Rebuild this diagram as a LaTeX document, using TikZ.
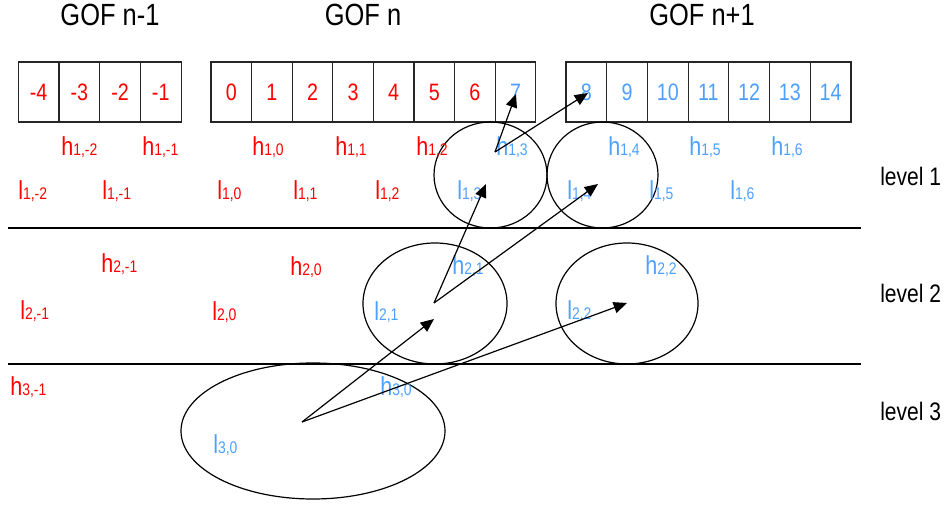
\documentclass[tikz,border=0pt]{standalone}
\usepackage{fontspec}
\setmainfont[FakeStretch=0.83]{Liberation Sans}
\usetikzlibrary{shapes.geometric,arrows.meta}
\definecolor{gofred}{RGB}{255,0,0}
\definecolor{gofblue}{RGB}{77,160,255}
% band label: big letter followed by a smaller index on the same baseline
\newcommand{\bandlab}[2]{{\fontsize{19.5}{20}\selectfont #1}{\fontsize{12.6}{13}\selectfont #2}}
\begin{document}
\begin{tikzpicture}[x=0.75pt,y=-0.75pt,
  cell/.style={draw=black!85,line width=0.9pt,minimum width={40.7*0.75pt},
    minimum height={60*0.75pt},inner sep=0pt,font=\fontsize{17.8}{18}\selectfont},
  title/.style={font=\fontsize{23}{25}\selectfont,inner sep=0pt},
  lvl/.style={font=\fontsize{19}{20}\selectfont,inner sep=0pt,anchor=west},
  lab/.style={inner sep=0pt,anchor=base west},
  band/.style={draw,line width=0.9pt,ellipse,inner sep=0pt},
  sep/.style={line width=0.9pt},
  arr/.style={line width=0.9pt,-{Triangle[length=10pt,width=8.5pt]}}]
\useasboundingbox (0,0) rectangle (945,505);

% titles
\node[title] (t1) at (110,15) {GOF n-1};
\node[title] (t2) at (363,15) {GOF n};
\node[title] (t3) at (702,15) {GOF n+1};

% frame cells
\foreach \v [count=\i from 0] in {-4,-3,-2,-1}
  \node[cell,text=gofred] (ca\i) at ({18.3+40.7*(\i+0.5)},92) {\v};
\foreach \v [count=\i from 0] in {0,1,2,3,4,5,6}
  \node[cell,text=gofred] (cb\i) at ({211+40.6*(\i+0.5)},92) {\v};
\node[cell,text=gofblue] (cb7) at ({211+40.6*7.5},92) {7};
\foreach \v [count=\i from 0] in {8,9,10,11,12,13,14}
  \node[cell,text=gofblue] (cc\i) at ({566+40.7*(\i+0.5)},92) {\v};

% level separators
\coordinate (s1a) at (8,228); \coordinate (s1b) at (861,228);
\coordinate (s2a) at (8,364); \coordinate (s2b) at (861,364);
\draw[sep] (s1a) -- (s1b);
\draw[sep] (s2a) -- (s2b);

% level names
\node[lvl] (lv1) at (880,176) {level 1};
\node[lvl] (lv2) at (880,293) {level 2};
\node[lvl] (lv3) at (880,411) {level 3};

% ellipses
\node[band,minimum width={113*0.75pt},minimum height={106*0.75pt}] (e13) at (490.5,175) {};
\node[band,minimum width={111*0.75pt},minimum height={106*0.75pt}] (e14) at (602.5,175) {};
\node[band,minimum width={144*0.75pt},minimum height={121*0.75pt}] (e21) at (435,303.5) {};
\node[band,minimum width={142*0.75pt},minimum height={121*0.75pt}] (e22) at (627,303.5) {};
\node[band,minimum width={264*0.75pt},minimum height={136*0.75pt}] (e30) at (313,431) {};

% level 1 labels
\node[lab,text=gofred] (h1m2) at (61,156) {\bandlab{h}{1,-2}};
\node[lab,text=gofred] (h1m1) at (142,156) {\bandlab{h}{1,-1}};
\node[lab,text=gofred] (h10) at (252,156) {\bandlab{h}{1,0}};
\node[lab,text=gofred] (h11) at (335,156) {\bandlab{h}{1,1}};
\node[lab,text=gofred] (h12) at (416,156) {\bandlab{h}{1,2}};
\node[lab,text=gofblue] (h13) at (496,156) {\bandlab{h}{1,3}};
\node[lab,text=gofblue] (h14) at (608,156) {\bandlab{h}{1,4}};
\node[lab,text=gofblue] (h15) at (689,156) {\bandlab{h}{1,5}};
\node[lab,text=gofblue] (h16) at (771,156) {\bandlab{h}{1,6}};

\node[lab,text=gofred] (l1m2) at (18,200) {\bandlab{l}{1,-2}};
\node[lab,text=gofred] (l1m1) at (102,200) {\bandlab{l}{1,-1}};
\node[lab,text=gofred] (l10) at (217,200) {\bandlab{l}{1,0}};
\node[lab,text=gofred] (l11) at (293,200) {\bandlab{l}{1,1}};
\node[lab,text=gofred] (l12) at (375,200) {\bandlab{l}{1,2}};
\node[lab,text=gofblue] (l13) at (457,200) {\bandlab{l}{1,3}};
\node[lab,text=gofblue] (l14) at (567,200) {\bandlab{l}{1,4}};
\node[lab,text=gofblue] (l15) at (649,200) {\bandlab{l}{1,5}};
\node[lab,text=gofblue] (l16) at (730,200) {\bandlab{l}{1,6}};

% level 2 labels
\node[lab,text=gofred] (h2m1) at (101,273) {\bandlab{h}{2,-1}};
\node[lab,text=gofred] (h20) at (290,276) {\bandlab{h}{2,0}};
\node[lab,text=gofblue] (h21) at (452,275) {\bandlab{h}{2,1}};
\node[lab,text=gofblue] (h22) at (645,275) {\bandlab{h}{2,2}};
\node[lab,text=gofred] (l2m1) at (20,320) {\bandlab{l}{2,-1}};
\node[lab,text=gofred] (l20) at (212,321) {\bandlab{l}{2,0}};
\node[lab,text=gofblue] (l21) at (374,321) {\bandlab{l}{2,1}};
\node[lab,text=gofblue] (l22) at (567,320) {\bandlab{l}{2,2}};

% level 3 labels
\node[lab,text=gofred] (h3m1) at (10,396) {\bandlab{h}{3,-1}};
\node[lab,text=gofblue] (h30) at (380,396) {\bandlab{h}{3,0}};
\node[lab,text=gofblue] (l30) at (213,453) {\bandlab{l}{3,0}};

% arrow end points
\coordinate (p3) at (302,422);
\coordinate (p2) at (434,303);
\coordinate (p1) at (495,152);
\coordinate (q21) at (434,319);
\coordinate (q22) at (627,303);
\coordinate (q13) at (486,184);
\coordinate (q14) at (598,184);
\coordinate (q7) at (516,94);
\coordinate (q8) at (588,93);

% arrows
\draw[arr] (p3) -- (q21);
\draw[arr] (p3) -- (q22);
\draw[arr] (p2) -- (q13);
\draw[arr] (p2) -- (q14);
\draw[arr] (p1) -- (q7);
\draw[arr] (p1) -- (q8);
\end{tikzpicture}
\end{document}
